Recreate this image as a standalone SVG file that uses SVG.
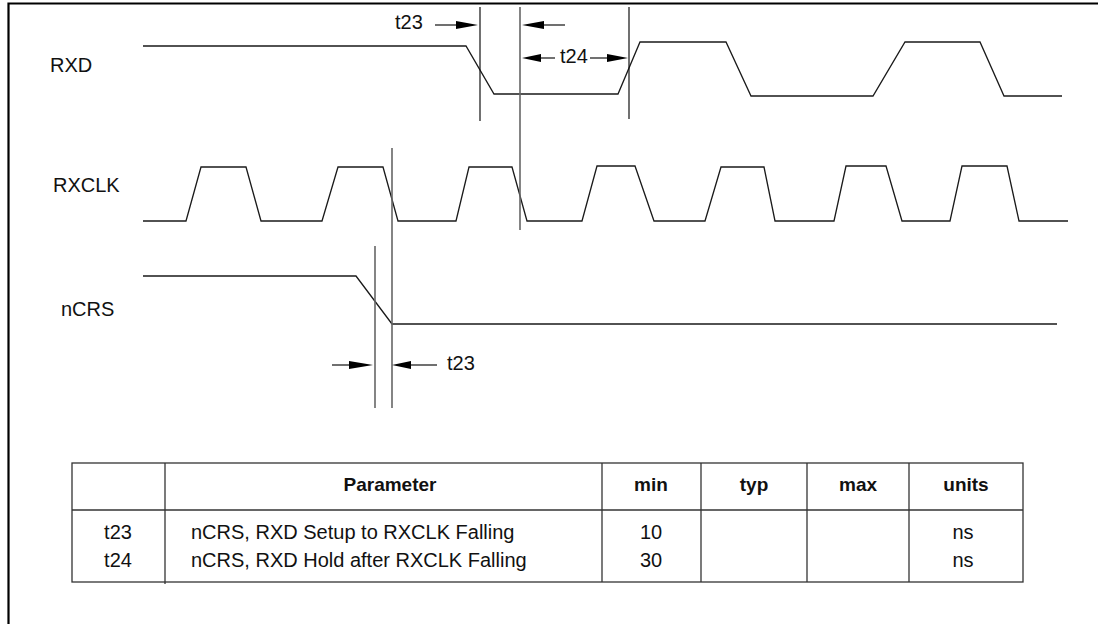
<svg xmlns="http://www.w3.org/2000/svg" width="1107" height="624" viewBox="0 0 1107 624">
<style>
text{font-family:"Liberation Sans",Arial,sans-serif;font-size:20px;fill:#111}
.b{font-weight:bold;font-size:19px}
.m{text-anchor:middle}
.w{fill:none;stroke:#1a1a1a;stroke-width:1.3}
.v{stroke:#111;stroke-width:1.2}
.g{stroke:#666;stroke-width:1.6}
.t{stroke:#333;stroke-width:1.3;fill:none}
.a{fill:#000}
</style>
<rect width="1107" height="624" fill="#fff"/>
<path d="M8.5,640 V3.5 H1098" fill="none" stroke="#000" stroke-width="2.2"/>

<g id="label-rxd"><text x="50" y="72">RXD</text></g>
<g id="label-rxclk"><text x="53" y="192">RXCLK</text></g>
<g id="label-ncrs"><text x="61" y="316">nCRS</text></g>

<g id="wave-rxd"><polyline class="w" points="143,46 466,46 494,94 618,94 640,42 726,42 751,96 873,96 905,42 980,42 1004,96 1062,96"/></g>
<g id="wave-rxclk"><polyline class="w" points="143,221 186,221 201,167 246,167 261,221 322,221 338,167 383,167 398,221 456,221 469,167 512,167 527,221 582,221 597,166 635,166 654,221 705,221 721,167 764,167 775,221 834,221 846,166 886,166 902,221 950,221 962,166 1007,166 1019,221 1068,221"/></g>
<g id="wave-ncrs"><polyline class="w" points="143,276 356,276 392,324 1057,324"/></g>

<g id="connectors">
<line class="v" x1="480" y1="7" x2="480" y2="121"/>
<line class="g" x1="520" y1="7" x2="520" y2="230"/>
<line class="v" x1="629" y1="7" x2="629" y2="119"/>
<line class="g" x1="375" y1="246" x2="375" y2="408"/>
<line class="g" x1="392" y1="148" x2="392" y2="408"/>
<line class="v" x1="435" y1="25" x2="458" y2="25"/>
<polygon class="a" points="456,21 478,25 456,29"/>
<line class="v" x1="540" y1="25" x2="565" y2="25"/>
<polygon class="a" points="544,21 522,25 544,29"/>
<line class="v" x1="538" y1="58" x2="555" y2="58"/>
<polygon class="a" points="541,54 522,58 541,62"/>
<line class="v" x1="590" y1="58" x2="610" y2="58"/>
<polygon class="a" points="607,54 628,58 607,62"/>
<line class="v" x1="332" y1="365" x2="352" y2="365"/>
<polygon class="a" points="349,361 373,365 349,369"/>
<line class="v" x1="408" y1="365" x2="437" y2="365"/>
<polygon class="a" points="411,361 392,365 411,369"/>
</g>

<g id="timing-labels">
<text x="395" y="29">t23</text>
<text x="560" y="63">t24</text>
<text x="447" y="370">t23</text>
</g>

<g id="table">
<rect class="t" x="72" y="463" width="951" height="119"/>
<line class="t" x1="72" y1="510" x2="1023" y2="510"/>
<line class="t" x1="165" y1="463" x2="165" y2="584"/>
<line class="t" x1="602" y1="463" x2="602" y2="582"/>
<line class="t" x1="701" y1="463" x2="701" y2="582"/>
<line class="t" x1="807" y1="463" x2="807" y2="582"/>
<line class="t" x1="909" y1="463" x2="909" y2="582"/>
<text class="b m" x="390" y="491">Parameter</text>
<text class="b m" x="651" y="491">min</text>
<text class="b m" x="754" y="491">typ</text>
<text class="b m" x="858" y="491">max</text>
<text class="b m" x="966" y="491">units</text>
<text class="m" x="118" y="539">t23</text>
<text x="191" y="539">nCRS, RXD Setup to RXCLK Falling</text>
<text class="m" x="651" y="539">10</text>
<text class="m" x="963" y="539">ns</text>
<text class="m" x="118" y="567">t24</text>
<text x="191" y="567">nCRS, RXD Hold after RXCLK Falling</text>
<text class="m" x="651" y="567">30</text>
<text class="m" x="963" y="567">ns</text>
</g>
</svg>
